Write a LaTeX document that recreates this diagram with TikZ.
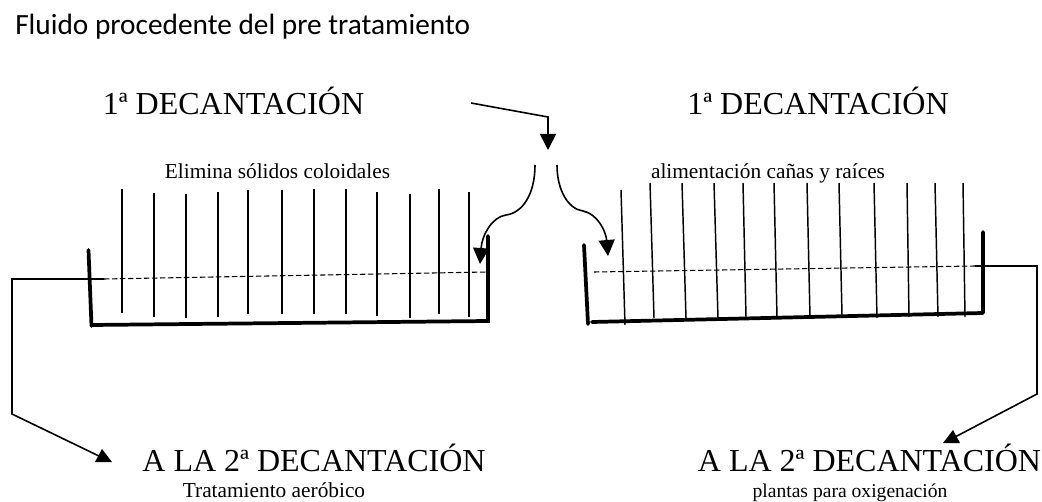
\documentclass[tikz,border=0pt]{standalone}
\usepackage{fontspec}
\setmainfont{Liberation Serif}
\newfontfamily\calib{Carlito}
\usetikzlibrary{arrows.meta}
\tikzset{
  x=0.75pt,y=-0.75pt,
  head/.style={-{Triangle[length=12pt,width=12pt]},line width=1.2pt,line join=miter},
  flow/.style={line width=1.2pt,line join=miter},
  wall/.style={line width=2.8pt,line cap=round},
  reed/.style={line width=1.1pt},
  level/.style={line width=0.8pt,dash pattern=on 4pt off 2pt},
  big/.style={font=\fontsize{24}{26}\selectfont,inner sep=0pt,anchor=base},
  small/.style={font=\fontsize{16}{18}\selectfont,inner sep=0pt,anchor=base},
  intro/.style={font=\calib\fontsize{22}{24}\selectfont,inner sep=0pt,anchor=base west}
}
\begin{document}
\begin{tikzpicture}
\useasboundingbox (0,0) rectangle (1042,502);
% texts
\node[intro] (t0) at (15,35) {Fluido procedente del pre tratamiento};
\node[big] (h1) at (233.5,115) {1ª DECANTACIÓN};
\node[big] (h2) at (818,115) {1ª DECANTACIÓN};
\node[small] (s1) at (277.5,179) {Elimina sólidos coloidales};
\node[small] (s2) at (768,179) {alimentación cañas y raíces};
\node[big] (b1) at (314,471) {A LA 2ª DECANTACIÓN};
\node[big] (b2) at (869.5,471) {A LA 2ª DECANTACIÓN};
\node[small] (c1) at (274,497) {Tratamiento aeróbico};
\node[small,font=\fontsize{14.7}{18}\selectfont] (c2) at (850,497) {plantas para oxigenación};
% reeds left
\foreach \x/\a/\b in {122/189/313,154/193/317,186/194/318,218/192/317,248/190/314,282/190/314,314/189/314,346/189/314,377/192/316,410/194/318,439/189/314,469/192/317}
  \draw[reed] (\x,\a) -- (\x,\b);
% reeds right
\foreach \x/\a/\u/\b in {621/190/625/325,650/183/654/318,682/183/686/318,714/183/718/318,743/183/746/317,774/183/777/317,807/183/810/317,839/183/842/315,874/183/877/318,907/183/909/317,935/183/938/317,963/183/965/317}
  \draw[reed] (\x,\a) -- (\u,\b);
% tanks
\draw[wall] (88.5,250) -- (91.5,326) (91.5,325) -- (488,321) -- (488,236);
\draw[wall] (584,245) -- (588,324) (592,322) -- (983,313) (983,313) -- (983,232);
% levels
\coordinate (l1) at (104,279);
\coordinate (l2) at (975,266);
\draw[level] (l1) -- (487,272);
\draw[level] (594,272) -- (l2);
% flow
\coordinate (in0) at (471,103);
\coordinate (in1) at (548,117);
\coordinate (in2) at (548,150);
\draw[head] (in0) -- (in1) -- (in2);
\coordinate (cl0) at (535,165);
\coordinate (cl1) at (506,215);
\coordinate (cl2) at (480,264);
\draw[head] (cl0) .. controls (535,195) and (522,213) .. (cl1) .. controls (492,217) and (482,235) .. (cl2);
\coordinate (cr0) at (557,165);
\coordinate (cr1) at (583,211);
\coordinate (cr2) at (608,256);
\draw[head] (cr0) .. controls (557,190) and (568,209) .. (cr1) .. controls (598,214) and (606,232) .. (cr2);
% outlets
\coordinate (o1) at (12,279);
\coordinate (o2) at (12,414);
\coordinate (o3) at (101,457);
\draw[flow] (l1) -- (o1) -- (o2) -- (o3);
\fill (95,462) -- (112,462) -- (102,449) -- cycle;
\coordinate (p1) at (1037,266);
\coordinate (p2) at (1037,394);
\coordinate (p3) at (955,437);
\draw[flow] (l2) -- (p1) -- (p2) -- (p3);
\fill (943,443) -- (960,443) -- (953,430) -- cycle;
\end{tikzpicture}
\end{document}
